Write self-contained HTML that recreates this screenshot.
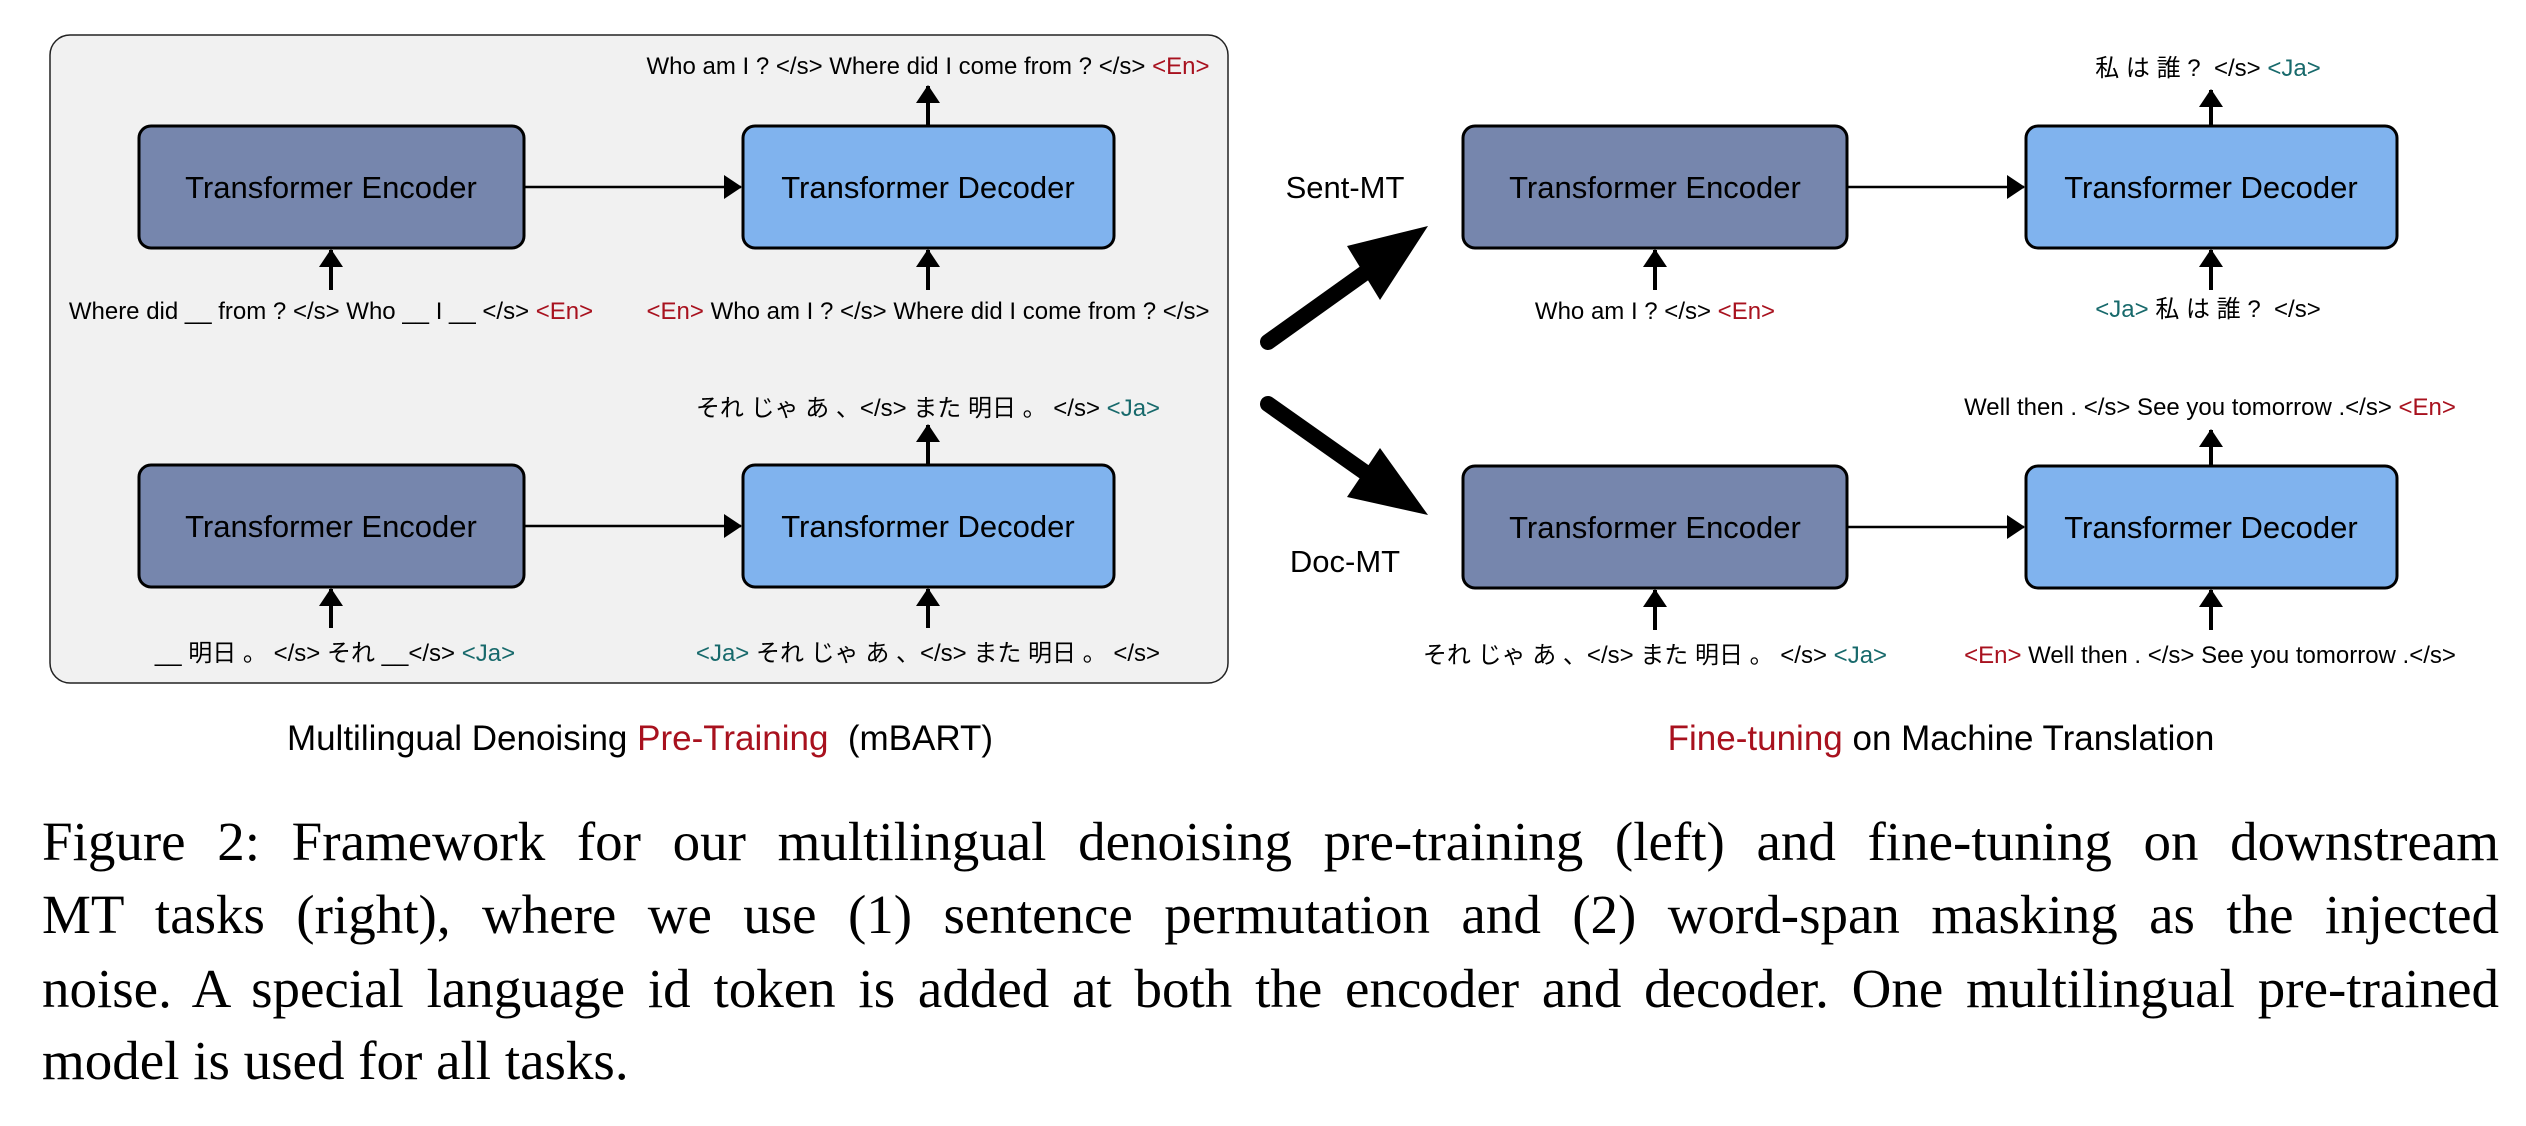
<!DOCTYPE html>
<html><head><meta charset="utf-8"><style>
html,body{margin:0;padding:0;background:#fff;width:2526px;height:1126px;overflow:hidden}
svg{position:absolute;left:0;top:0}
text{font-family:"Liberation Sans","Noto Sans CJK JP",sans-serif}
.cap{position:absolute;left:42px;width:2457px;font-family:"Liberation Serif",serif;font-size:55px;line-height:73px;text-align:justify;text-align-last:justify;white-space:nowrap;color:#000}
.r{fill:#a8111e}.g{fill:#17696b}
</style></head><body>
<svg width="2526" height="1126" viewBox="0 0 2526 1126">
<defs>
<marker id="b" markerWidth="18" markerHeight="24" refX="17" refY="12" orient="auto" markerUnits="userSpaceOnUse"><path d="M0,0 L18,12 L0,24 Z" fill="#000"/></marker>
</defs>
<rect x="50" y="35" width="1178" height="648" rx="20" fill="#f1f1f1" stroke="#222" stroke-width="1.5"/>
<g stroke="#000" stroke-width="3">
<rect x="139" y="126" width="385" height="122" rx="12" fill="#7686ad"/>
<rect x="743" y="126" width="371" height="122" rx="12" fill="#80b3ee"/>
<rect x="139" y="465" width="385" height="122" rx="12" fill="#7686ad"/>
<rect x="743" y="465" width="371" height="122" rx="12" fill="#80b3ee"/>
<rect x="1463" y="126" width="384" height="122" rx="12" fill="#7686ad"/>
<rect x="2026" y="126" width="371" height="122" rx="12" fill="#80b3ee"/>
<rect x="1463" y="466" width="384" height="122" rx="12" fill="#7686ad"/>
<rect x="2026" y="466" width="371" height="122" rx="12" fill="#80b3ee"/>
</g>
<g stroke="#000" stroke-width="2.5" fill="none">
<line x1="524" y1="187" x2="741" y2="187" marker-end="url(#b)"/>
<line x1="524" y1="526" x2="741" y2="526" marker-end="url(#b)"/>
<line x1="1847" y1="187" x2="2024" y2="187" marker-end="url(#b)"/>
<line x1="1847" y1="527" x2="2024" y2="527" marker-end="url(#b)"/>
</g>
<g stroke="#000" stroke-width="4">
<line x1="331" y1="290" x2="331" y2="250" marker-end="url(#b)"/>
<line x1="928" y1="290" x2="928" y2="250" marker-end="url(#b)"/>
<line x1="928" y1="126" x2="928" y2="86" marker-end="url(#b)"/>
<line x1="331" y1="628" x2="331" y2="589" marker-end="url(#b)"/>
<line x1="928" y1="628" x2="928" y2="589" marker-end="url(#b)"/>
<line x1="928" y1="465" x2="928" y2="425" marker-end="url(#b)"/>
<line x1="1655" y1="290" x2="1655" y2="250" marker-end="url(#b)"/>
<line x1="2211" y1="290" x2="2211" y2="250" marker-end="url(#b)"/>
<line x1="2211" y1="126" x2="2211" y2="90" marker-end="url(#b)"/>
<line x1="1655" y1="630" x2="1655" y2="590" marker-end="url(#b)"/>
<line x1="2211" y1="630" x2="2211" y2="590" marker-end="url(#b)"/>
<line x1="2211" y1="466" x2="2211" y2="430" marker-end="url(#b)"/>
</g>
<line x1="1268" y1="342" x2="1380" y2="262" stroke="#000" stroke-width="16" stroke-linecap="round"/>
<path d="M1428,226 L1380,300 L1347,246 Z" fill="#000"/>
<line x1="1268" y1="404" x2="1380" y2="483" stroke="#000" stroke-width="16" stroke-linecap="round"/>
<path d="M1428,515 L1347,497 L1380,448 Z" fill="#000"/>
<g font-size="31" text-anchor="middle" fill="#000">
<text x="331" y="198">Transformer Encoder</text>
<text x="928" y="198">Transformer Decoder</text>
<text x="331" y="537">Transformer Encoder</text>
<text x="928" y="537">Transformer Decoder</text>
<text x="1655" y="198">Transformer Encoder</text>
<text x="2211" y="198">Transformer Decoder</text>
<text x="1655" y="538">Transformer Encoder</text>
<text x="2211" y="538">Transformer Decoder</text>
<text x="1345" y="198">Sent-MT</text>
<text x="1345" y="572">Doc-MT</text>
</g>
<g font-size="35" text-anchor="middle" fill="#000">
<text x="640" y="750" xml:space="preserve">Multilingual Denoising <tspan class="r">Pre-Training</tspan>  (mBART)</text>
<text x="1941" y="750"><tspan class="r">Fine-tuning</tspan> on Machine Translation</text>
</g>
<g font-size="24" text-anchor="middle" fill="#000">
<text x="928" y="74">Who am I ? &lt;/s&gt; Where did I come from ? &lt;/s&gt; <tspan class="r">&lt;En&gt;</tspan></text>
<text x="331" y="319">Where did __ from ? &lt;/s&gt; Who __ I __ &lt;/s&gt; <tspan class="r">&lt;En&gt;</tspan></text>
<text x="928" y="319"><tspan class="r">&lt;En&gt;</tspan> Who am I ? &lt;/s&gt; Where did I come from ? &lt;/s&gt;</text>
<text x="928" y="416">それ じゃ あ 、&lt;/s&gt; また 明日 。 &lt;/s&gt; <tspan class="g">&lt;Ja&gt;</tspan></text>
<text x="335" y="661">__ 明日 。 &lt;/s&gt; それ __&lt;/s&gt; <tspan class="g">&lt;Ja&gt;</tspan></text>
<text x="928" y="661"><tspan class="g">&lt;Ja&gt;</tspan> それ じゃ あ 、&lt;/s&gt; また 明日 。 &lt;/s&gt;</text>
<text x="2208" y="76" xml:space="preserve">私 は 誰 ?  &lt;/s&gt; <tspan class="g">&lt;Ja&gt;</tspan></text>
<text x="1655" y="319">Who am I ? &lt;/s&gt; <tspan class="r">&lt;En&gt;</tspan></text>
<text x="2208" y="317" xml:space="preserve"><tspan class="g">&lt;Ja&gt;</tspan> 私 は 誰 ?  &lt;/s&gt;</text>
<text x="2210" y="415">Well then . &lt;/s&gt; See you tomorrow .&lt;/s&gt; <tspan class="r">&lt;En&gt;</tspan></text>
<text x="1655" y="663">それ じゃ あ 、&lt;/s&gt; また 明日 。 &lt;/s&gt; <tspan class="g">&lt;Ja&gt;</tspan></text>
<text x="2210" y="663"><tspan class="r">&lt;En&gt;</tspan> Well then . &lt;/s&gt; See you tomorrow .&lt;/s&gt;</text>
</g>
</svg>
<div class="cap" style="top:805px">Figure 2: Framework for our multilingual denoising pre-training (left) and fine-tuning on downstream</div>
<div class="cap" style="top:878px">MT tasks (right), where we use (1) sentence permutation and (2) word-span masking as the injected</div>
<div class="cap" style="top:952px">noise. A special language id token is added at both the encoder and decoder. One multilingual pre-trained</div>
<div class="cap" style="top:1024px;text-align-last:left">model is used for all tasks.</div>
</body></html>
